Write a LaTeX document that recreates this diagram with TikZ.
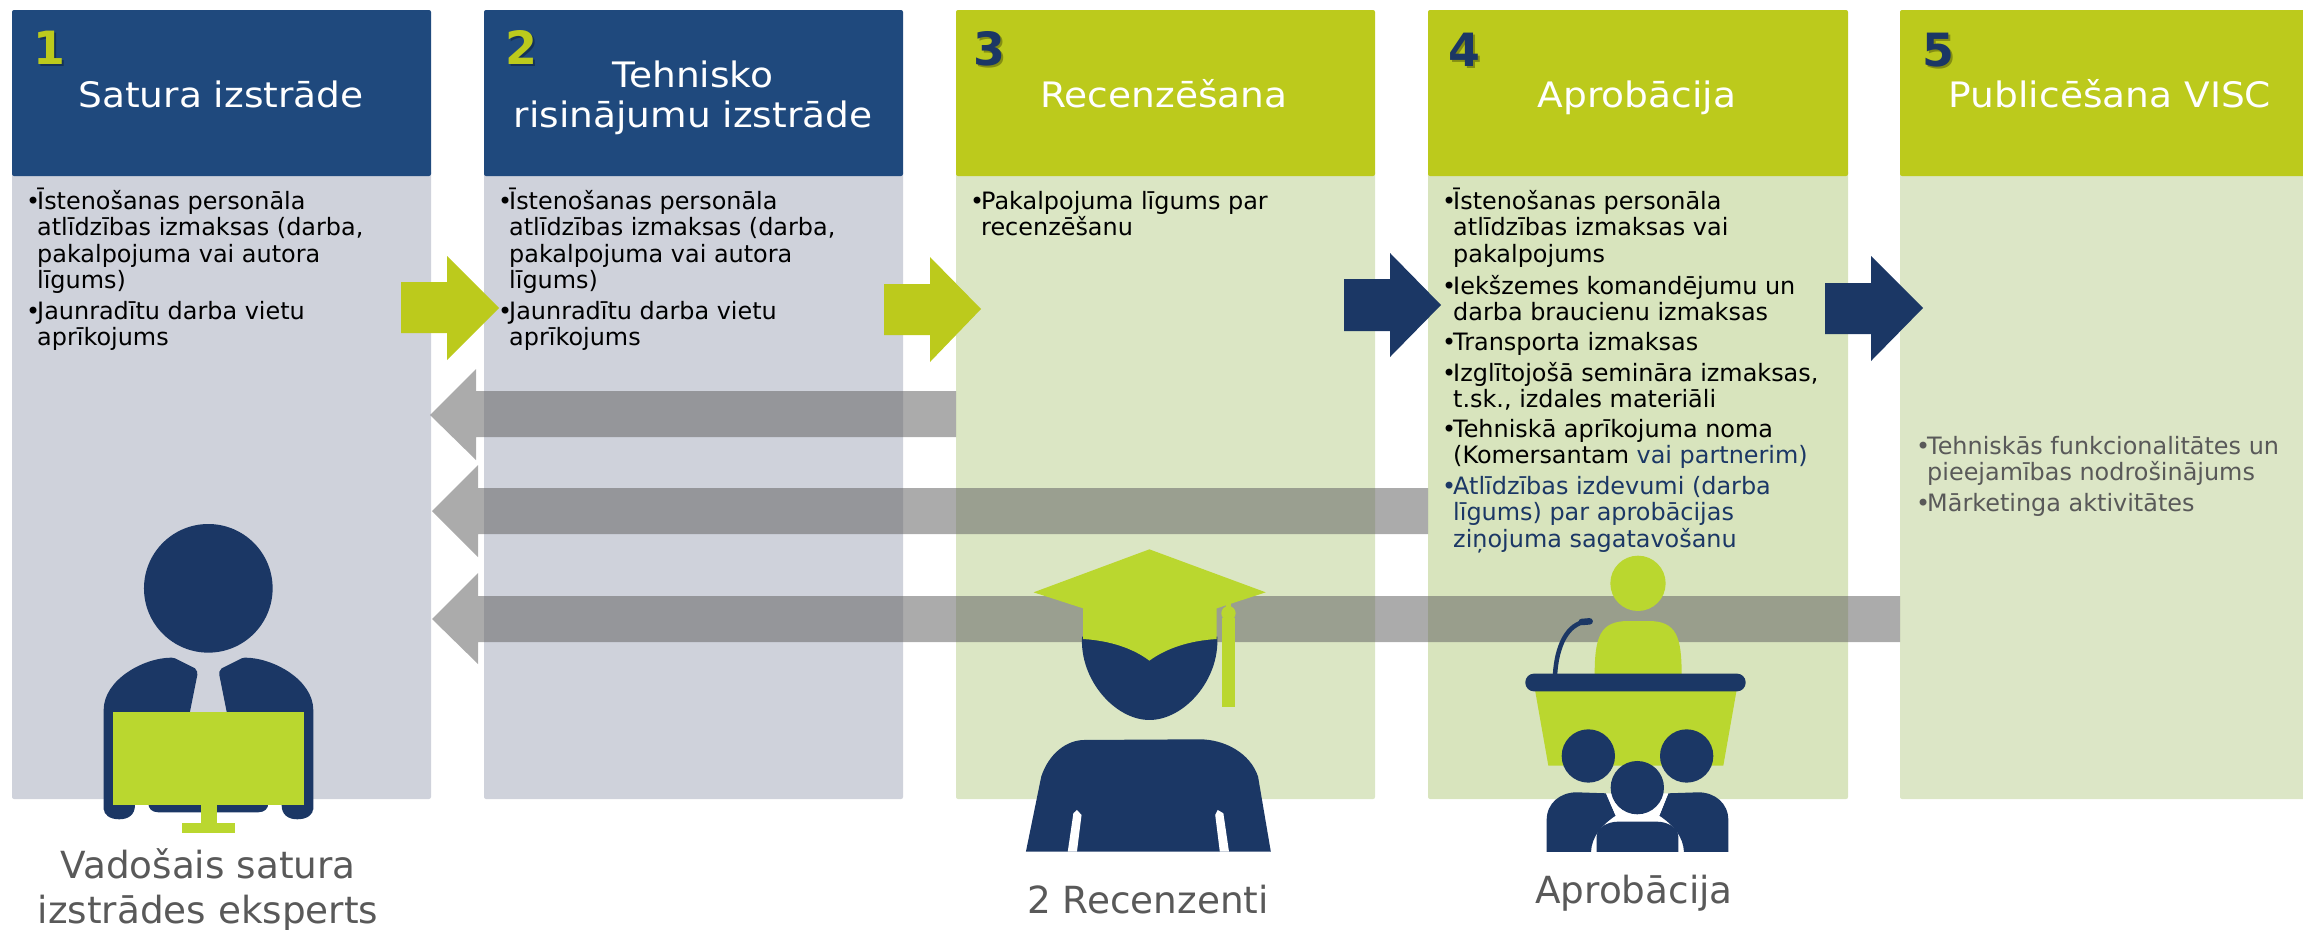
\documentclass[tikz,border=0pt]{standalone}
\usepackage{fontspec}
\setmainfont{DejaVu Sans}
\newfontfamily\titlefont[FakeStretch=1.07]{DejaVu Sans}
\definecolor{hdrblue}{HTML}{1F497D}
\definecolor{hdrgreen}{HTML}{BCCA1C}
\definecolor{bodyblue}{HTML}{CFD2DB}
\definecolor{bodygreen}{HTML}{DBE6C4}
\definecolor{bodygreenb}{HTML}{D8E4BD}
\definecolor{bodygreenc}{HTML}{DCE6C6}
\definecolor{iconnavy}{HTML}{1B3765}
\definecolor{icongreen}{HTML}{BAD72F}
\definecolor{greytext}{HTML}{595959}
\definecolor{arrowgrey}{HTML}{646464}
\newcommand\leftlines[2]{\vtop{\baselineskip=#1\lineskiplimit=-100pt\halign{##\hfil\cr#2\crcr}}}
\newcommand\midlines[2]{\vtop{\baselineskip=#1\lineskiplimit=-100pt\halign{\hfil##\hfil\cr#2\crcr}}}
\newcommand\bu{\makebox[11bp][l]{•}}
\newcommand\cn{\hspace*{11bp}}
\tikzset{
  x=1bp,y=-1bp,
  titletext/.style={anchor=base,text=white,inner sep=0,font=\titlefont\fontsize{35.2}{40}\selectfont},
  bodytext/.style={anchor=base west,text=black,inner sep=0,font=\fontsize{24}{26.5}\selectfont},
  numtext/.style={anchor=base west,inner sep=0,font=\fontsize{46}{50}\selectfont\bfseries},
  numshadow/.style={numtext,text=black,text opacity=.3},
  captext/.style={anchor=base,text=greytext,inner sep=0,font=\fontsize{37.5}{45}\selectfont},
  corner/.style={rounded corners=2bp},
  greyarrow/.style={fill=arrowgrey,fill opacity=.54},
}
\begin{document}
\begin{tikzpicture}
\useasboundingbox (0,0) rectangle (2303,929);
% column bodies
\fill[corner,bodyblue] (12,170) rectangle (431,799);
\fill[corner,bodyblue] (484,170) rectangle (903,799);
\fill[corner,bodygreen] (956,170) rectangle (1375,799);
\fill[corner,bodygreenb] (1428,170) rectangle (1848,799);
\fill[corner,bodygreenc] (1900,170) rectangle (2310,799);
% column headers
\fill[corner,hdrblue] (12,10) rectangle (431,176);
\fill[corner,hdrblue] (484,10) rectangle (903,176);
\fill[corner,hdrgreen] (956,10) rectangle (1375,176);
\fill[corner,hdrgreen] (1428,10) rectangle (1848,176);
\fill[corner,hdrgreen] (1900,10) rectangle (2310,176);
% grey return arrows
\fill[greyarrow] (956,391) -- (476,391) -- (476,369) -- (430,415) -- (476,460) -- (476,437) -- (956,437) -- cycle;
\fill[greyarrow] (1428,488) -- (478,488) -- (478,465) -- (432,511) -- (478,557) -- (478,534) -- (1428,534) -- cycle;
\fill[greyarrow] (1900,596) -- (478,596) -- (478,573) -- (432,619) -- (478,664) -- (478,642) -- (1900,642) -- cycle;
% forward arrows
\fill[hdrgreen] (401,282) -- (447,282) -- (447,256) -- (499,308) -- (447,360) -- (447,333) -- (401,333) -- cycle;
\fill[hdrgreen] (884,284) -- (930,284) -- (930,257) -- (981,309) -- (930,362) -- (930,335) -- (884,335) -- cycle;
\fill[iconnavy] (1344,279) -- (1390,279) -- (1390,253) -- (1441,305) -- (1390,357) -- (1390,331) -- (1344,331) -- cycle;
\fill[iconnavy] (1825,283) -- (1871,283) -- (1871,256) -- (1923,308) -- (1871,361) -- (1871,334) -- (1825,334) -- cycle;
% expert icon
\begin{scope}[shift={(0,480)},x=.3333bp,y=-.3333bp]
\fill[iconnavy] (625,325) circle [x radius=193,y radius=193];
\fill[iconnavy] (311,990) -- (311,690) .. controls (311,600) and (430,533) .. (515,533) -- (525,535) -- (585,565) .. controls (592,572) and (593,578) .. (592,585) -- (570,695) -- (570,800) -- (340,800) -- (340,975) -- (405,975) .. controls (405,1005) and (385,1018) .. (358,1018) .. controls (330,1018) and (311,1005) .. (311,985) -- cycle;
\fill[iconnavy] (940,990) -- (940,690) .. controls (940,600) and (820,533) .. (735,533) -- (725,535) -- (665,565) .. controls (658,572) and (657,578) .. (658,585) -- (680,695) -- (680,800) -- (912,800) -- (912,975) -- (845,975) .. controls (845,1005) and (865,1018) .. (892,1018) .. controls (920,1018) and (940,1005) .. (940,985) -- cycle;
\fill[iconnavy] (445,970) -- (805,970) .. controls (805,985) and (795,997) .. (775,997) -- (475,997) .. controls (455,997) and (445,985) .. (445,970) -- cycle;
\fill[icongreen] (340,695) rectangle (912,975);
\fill[icongreen] (602,975) rectangle (652,1030);
\fill[icongreen] (546,1030) rectangle (705,1060);
\end{scope}
% graduate icon
\begin{scope}[shift={(980,520)},x=.5102bp,y=-.3333bp]
\fill[iconnavy] (200,350) .. controls (195,480) and (265,600) .. (332,600) .. controls (400,600) and (470,480) .. (465,350) -- cycle;
\fill[icongreen] (332,88) -- (560,217) -- (464,265) -- (464,357) .. controls (410,362) and (365,385) .. (332,422) .. controls (300,385) and (255,362) .. (202,357) -- (202,265) -- (105,217) -- cycle;
\fill[icongreen] (474,295) rectangle (500,560);
\fill[icongreen] (487,280) ellipse [x radius=14,y radius=22];
\fill[icongreen] (483,240) rectangle (491,270);
\fill[iconnavy] (90,995) -- (120,770) .. controls (135,700) and (170,660) .. (205,660) -- (430,658) .. controls (480,658) and (530,700) .. (545,770) -- (570,995) -- cycle;
\fill[white] (172,995) -- (183,880) -- (190,870) -- (199,885) -- (190,995) -- cycle;
\fill[white] (470,995) -- (461,885) -- (466,870) -- (477,880) -- (488,995) -- cycle;
\end{scope}
% speaker and audience icon
\begin{scope}[shift={(1500,580)},x=.3333bp,y=-.3333bp]
\fill[icongreen] (414,10) circle [x radius=83,y radius=83];
\fill[icongreen] (284,285) .. controls (284,170) and (300,123) .. (385,123) -- (445,123) .. controls (530,123) and (545,170) .. (545,285) -- cycle;
\draw[iconnavy,line width=4.5bp] (165,285) .. controls (170,200) and (200,130) .. (262,124);
\draw[iconnavy,line width=6.5bp,line cap=round] (245,126) -- (269,124);
\fill[icongreen] (105,330) -- (710,330) -- (670,557) -- (145,557) -- cycle;
\fill[iconnavy,rounded corners=8.5bp] (76,281) rectangle (737,334);
\fill[iconnavy] (265,528) circle [x radius=80,y radius=80];
\fill[iconnavy] (560,528) circle [x radius=80,y radius=80];
\fill[iconnavy] (140,816) -- (140,720) .. controls (140,670) and (180,637) .. (230,637) -- (318,640) -- (347,707) .. controls (305,735) and (275,770) .. (273,816) -- cycle;
\fill[iconnavy] (685,816) -- (685,720) .. controls (685,670) and (645,637) .. (595,637) -- (505,640) -- (478,707) .. controls (520,735) and (550,770) .. (552,816) -- cycle;
\fill[white] (318,640) -- (505,640) -- (478,707) -- (347,707) -- cycle;
\fill[iconnavy] (412,623) circle [x radius=80,y radius=80];
\fill[iconnavy] (290,816) -- (290,770) .. controls (290,745) and (320,725) .. (355,725) -- (470,725) .. controls (505,725) and (535,745) .. (535,770) -- (535,816) -- cycle;
\end{scope}
% step numbers
\node[numshadow] (n1s) at (35,66) {1};
\node[numtext,text=hdrgreen] (n1) at (33,64) {1};
\node[numshadow] (n2s) at (507,66) {2};
\node[numtext,text=hdrgreen] (n2) at (505,64) {2};
\node[numshadow] (n3s) at (975,67) {3};
\node[numtext,text=iconnavy] (n3) at (973,65) {3};
\node[numshadow] (n4s) at (1450,68) {4};
\node[numtext,text=iconnavy] (n4) at (1448,66) {4};
\node[numshadow] (n5s) at (1924,68) {5};
\node[numtext,text=iconnavy] (n5) at (1922,66) {5};
% titles
\node[titletext] (t1) at (221,107) {Satura izstrāde};
\node[titletext] (t2) at (693,87) {\midlines{40bp}{Tehnisko\cr risinājumu izstrāde}};
\node[titletext] (t3) at (1164,107) {Recenzēšana};
\node[titletext] (t4) at (1637,107) {Aprobācija};
\node[titletext] (t5) at (2110,107) {Publicēšana VISC};
% body lists
\node[bodytext] (b1a) at (26,209) {\leftlines{26.5bp}{\bu Īstenošanas personāla\cr\cn atlīdzības izmaksas (darba,\cr\cn pakalpojuma vai autora\cr\cn līgums)}};
\node[bodytext] (b1b) at (26,319) {\leftlines{26.5bp}{\bu Jaunradītu darba vietu\cr\cn aprīkojums}};
\node[bodytext] (b2a) at (498,209) {\leftlines{26.5bp}{\bu Īstenošanas personāla\cr\cn atlīdzības izmaksas (darba,\cr\cn pakalpojuma vai autora\cr\cn līgums)}};
\node[bodytext] (b2b) at (498,319) {\leftlines{26.5bp}{\bu Jaunradītu darba vietu\cr\cn aprīkojums}};
\node[bodytext] (b3a) at (970,209) {\leftlines{26.5bp}{\bu Pakalpojuma līgums par\cr\cn recenzēšanu}};
\node[bodytext] (b4a) at (1442,209) {\leftlines{26.5bp}{\bu Īstenošanas personāla\cr\cn atlīdzības izmaksas vai\cr\cn pakalpojums}};
\node[bodytext] (b4b) at (1442,294) {\leftlines{26.5bp}{\bu Iekšzemes komandējumu un\cr\cn darba braucienu izmaksas}};
\node[bodytext] (b4c) at (1442,350) {\bu Transporta izmaksas};
\node[bodytext] (b4d) at (1442,381) {\leftlines{26.5bp}{\bu Izglītojošā semināra izmaksas,\cr\cn t.sk., izdales materiāli}};
\node[bodytext] (b4e) at (1442,437) {\leftlines{26.5bp}{\bu Tehniskā aprīkojuma noma\cr\cn (Komersantam {\color{iconnavy}vai partnerim)}}};
\node[bodytext,text=iconnavy] (b4f) at (1442,494) {\leftlines{26.5bp}{\bu Atlīdzības izdevumi (darba\cr\cn līgums) par aprobācijas\cr\cn ziņojuma sagatavošanu}};
\node[bodytext,text=greytext] (b5a) at (1916,454) {\leftlines{26.5bp}{\bu Tehniskās funkcionalitātes un\cr\cn pieejamības nodrošinājums}};
\node[bodytext,text=greytext] (b5b) at (1916,511) {\bu Mārketinga aktivitātes};
% captions
\node[captext] (c1) at (208,878) {\midlines{45bp}{Vadošais satura\cr izstrādes eksperts}};
\node[captext] (c2) at (1148,913) {2 Recenzenti};
\node[captext] (c3) at (1634,903) {Aprobācija};
\end{tikzpicture}
\end{document}
